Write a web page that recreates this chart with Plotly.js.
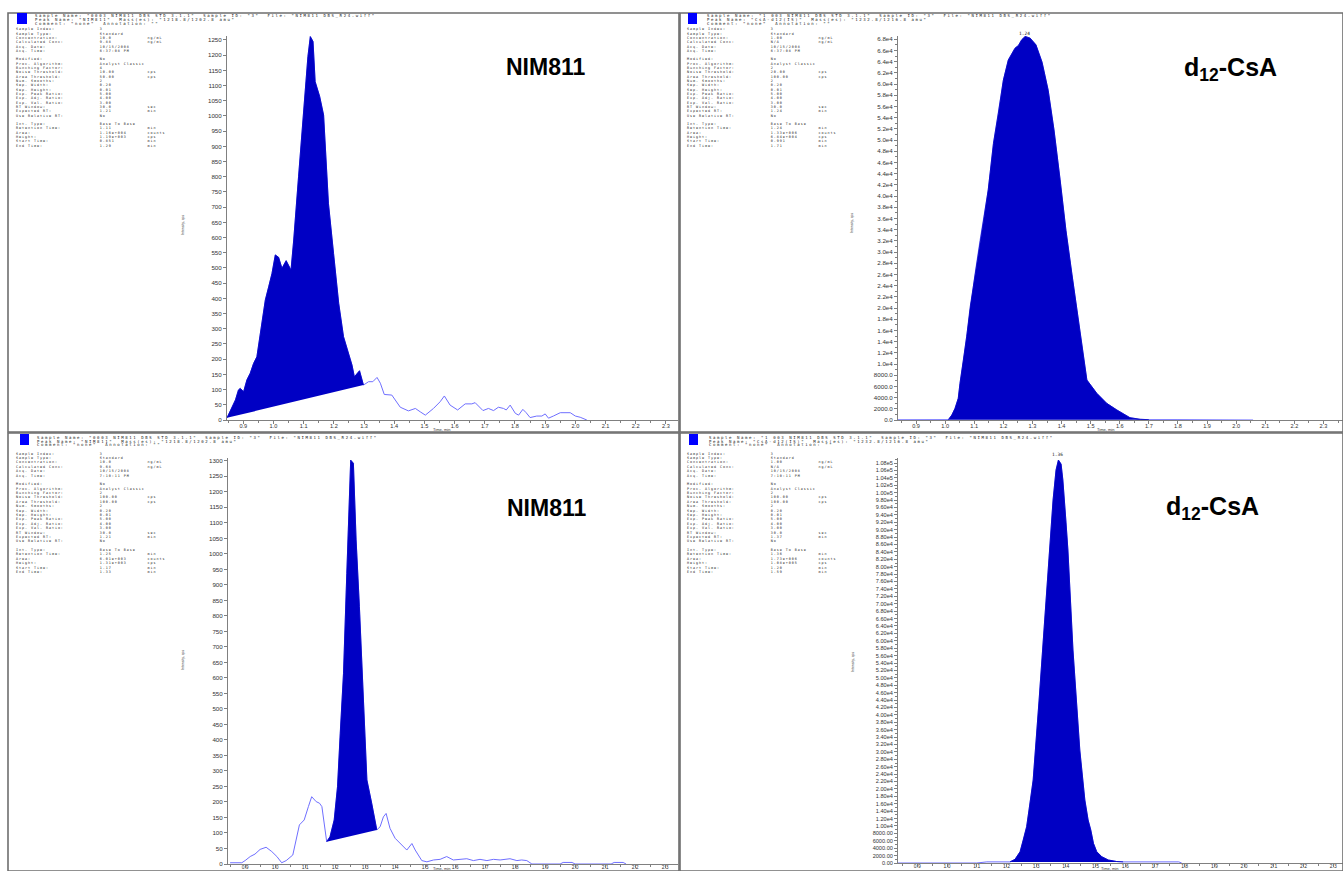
<!DOCTYPE html>
<html><head><meta charset="utf-8">
<script src="https://cdn.plot.ly/plotly-3.0.1.min.js"></script>
<style>html,body{margin:0;padding:0;background:#fff;overflow:hidden}#chart{width:1343px;height:871px;}</style>
</head><body><div id="chart"></div>
<script>
const W = 1343, H = 871;

// ---------- tick labels ----------
const xTickLabels = ["0.9","1.0","1.1","1.2","1.3","1.4","1.5","1.6","1.7","1.8","1.9","2.0","2.1","2.2","2.3"];
const tlYTickLabels = ["0","50","100","150","200","250","300","350","400","450","500","550","600","650","700","750","800","850","900","950","1000","1050","1100","1150","1200","1250"];
const trYTickLabels = ["0.0","2000.0","4000.0","6000.0","8000.0","1.0e4","1.2e4","1.4e4","1.6e4","1.8e4","2.0e4","2.2e4","2.4e4","2.6e4","2.8e4","3.0e4","3.2e4","3.4e4","3.6e4","3.8e4","4.0e4","4.2e4","4.4e4","4.6e4","4.8e4","5.0e4","5.2e4","5.4e4","5.6e4","5.8e4","6.0e4","6.2e4","6.4e4","6.6e4","6.8e4"];
const blYTickLabels = ["0","50","100","150","200","250","300","350","400","450","500","550","600","650","700","750","800","850","900","950","1000","1050","1100","1150","1200","1250","1300"];
const brYTickLabels = ["0.00","2000.00","4000.00","6000.00","8000.00","1.00e4","1.20e4","1.40e4","1.60e4","1.80e4","2.00e4","2.20e4","2.40e4","2.60e4","2.80e4","3.00e4","3.20e4","3.40e4","3.60e4","3.80e4","4.00e4","4.20e4","4.40e4","4.60e4","4.80e4","5.00e4","5.20e4","5.40e4","5.60e4","5.80e4","6.00e4","6.20e4","6.40e4","6.60e4","6.80e4","7.00e4","7.20e4","7.40e4","7.60e4","7.80e4","8.00e4","8.20e4","8.40e4","8.60e4","8.80e4","9.00e4","9.20e4","9.40e4","9.60e4","9.80e4","1.00e5","1.02e5","1.04e5","1.06e5","1.08e5"];

// ---------- chromatogram data (time, min / intensity, cps) ----------
const tlTime = [0.846,0.863,0.874,0.884,0.890,0.901,0.912,0.923,0.934,0.945,0.956,0.973,0.984,0.995,1.006,1.017,1.028,1.042,1.058,1.067,1.083,1.100,1.114,1.122,1.131,1.138,1.153,1.166,1.182,1.199,1.216,1.232,1.249,1.260,1.268,1.277,1.285,1.298,1.315,1.329,1.343,1.354,1.367,1.392,1.403,1.420,1.447,1.470,1.486,1.503,1.530,1.552,1.566,1.574,1.585,1.610,1.635,1.657,1.668,1.694,1.712,1.729,1.745,1.762,1.771,1.784,1.801,1.812,1.826,1.837,1.850,1.872,1.889,1.900,1.911,1.927,1.950,1.983,2.000,2.016,2.038];
const tlIntensity = [7,44,66,99,104,93,132,154,186,208,285,395,438,482,543,535,499,524,493,592,800,1020,1195,1261,1245,1113,1064,1003,713,548,384,274,219,181,142,154,162,115,126,126,140,121,84,82,66,42,30,38,27,16,38,60,79,66,49,33,53,53,57,31,38,31,42,38,33,49,22,16,35,24,8,13,13,20,6,13,24,24,13,9,0];
const tlPeakStart = 0.846, tlPeakEnd = 1.298;

const trTime = [0.838,0.900,0.950,1.000,1.011,1.023,1.034,1.045,1.051,1.063,1.074,1.086,1.103,1.120,1.134,1.148,1.166,1.183,1.200,1.217,1.230,1.240,1.252,1.263,1.275,1.292,1.312,1.333,1.354,1.374,1.395,1.415,1.436,1.457,1.487,1.521,1.555,1.590,1.611,1.635,1.670,1.700,1.800,1.900,2.000,2.058];
const trIntensity = [40,40,40,40,60,890,2080,3870,6550,10700,14900,20200,26200,32100,36300,41100,49400,54800,60700,64300,65600,66400,66900,67900,68500,68200,67000,63900,58900,51800,42900,33900,25900,17900,7140,4770,2980,1790,1200,410,125,60,60,40,40,0];
const trPeakStart = 1.011, trPeakEnd = 1.700;

const blTime = [0.850,0.889,0.900,0.917,0.933,0.950,0.970,0.989,1.006,1.022,1.037,1.059,1.081,1.097,1.111,1.122,1.137,1.148,1.156,1.172,1.183,1.197,1.208,1.217,1.228,1.239,1.248,1.252,1.261,1.270,1.281,1.292,1.306,1.322,1.339,1.350,1.361,1.370,1.383,1.400,1.422,1.439,1.456,1.467,1.489,1.506,1.528,1.550,1.572,1.594,1.639,1.661,1.683,1.706,1.728,1.750,1.783,1.806,1.822,1.839,1.856,1.950,1.960,1.990,2.000,2.120,2.130,2.160,2.170];
const blIntensity = [4,4,11,24,32,47,54,40,24,4,11,29,126,142,185,217,201,196,185,72,88,142,249,421,615,937,1238,1302,1292,1045,830,561,271,196,110,120,152,163,115,83,61,45,66,45,11,7,13,15,24,13,17,11,15,11,15,13,17,11,13,11,0,0,5,5,0,0,5,5,0];
const blPeakStart = 1.172, blPeakEnd = 1.339;

const brTime = [0.835,1.100,1.134,1.200,1.212,1.229,1.246,1.257,1.268,1.276,1.290,1.310,1.333,1.347,1.357,1.367,1.375,1.384,1.390,1.400,1.407,1.424,1.447,1.464,1.475,1.484,1.493,1.504,1.521,1.543,1.571,1.593,1.650,1.780,1.790];
const brIntensity = [0,0,300,300,300,1000,3050,6200,9800,14300,22400,44000,71000,87200,98000,106100,108800,107700,103400,92600,84500,57500,30500,17000,11600,8900,5300,3050,1700,810,400,300,300,300,0];
const brPeakStart = 1.212, brPeakEnd = 1.593;

// ---------- peak-review text ----------
const infoLabels = ["Sample Index:","Sample Type:","Concentration:","Calculated Conc:","Acq. Date:","Acq. Time:","","Modified:","Proc. Algorithm:","Bunching Factor:","Noise Threshold:","Area Threshold:","Num. Smooths:","Sep. Width:","Sep. Height:","Exp. Peak Ratio:","Exp. Adj. Ratio:","Exp. Val. Ratio:","RT Window:","Expected RT:","Use Relative RT:","","Int. Type:","Retention Time:","Area:","Height:","Start Time:","End Time:"];
const infoUnits = ["","","ng/mL","ng/mL","","","","","","","cps","cps","","","","","","","sec","min","","","","min","counts","cps","min","min"];
const tlInfoValues = ["3","Standard","10.0","9.88","10/15/2008","6:37:08 PM","","No","Analyst Classic","4","10.00","50.00","2","0.20","0.01","5.00","4.00","3.00","30.0","1.21","No","","Base To Base","1.11","1.16e+004","1.19e+003","0.851","1.29"];
const trInfoValues = ["3","Standard","1.00","N/A","10/15/2008","6:37:08 PM","","No","Analyst Classic","2","20.00","100.00","2","0.20","0.01","5.00","4.00","3.00","30.0","1.24","No","","Base To Base","1.24","1.33e+006","6.84e+004","0.991","1.71"];
const blInfoValues = ["3","Standard","10.0","9.68","10/15/2008","7:10:11 PM","","No","Analyst Classic","2","100.00","100.00","2","0.20","0.01","5.00","4.00","3.00","30.0","1.21","No","","Base To Base","1.25","6.01e+003","1.31e+003","1.17","1.33"];
const brInfoValues = ["3","Standard","1.00","N/A","10/15/2008","7:10:11 PM","","No","Analyst Classic","2","100.00","100.00","2","0.20","0.01","5.00","4.00","3.00","30.0","1.37","No","","Base To Base","1.36","1.73e+006","1.08e+005","1.20","1.59"];
const tlHeader = ['Sample Name: "0003 NIM811 DBS STD 3.1.1"  Sample ID: "3"  File: "NIM811 DBS_R24.wiff"','Peak Name: "NIM811"  Mass(es): "1218.8/1202.8 amu"','Comment: "none"  Annotation: ""'];
const trHeader = ['Sample Name: "1 003 NIM811 DBS STD 3.1.1"  Sample ID: "3"  File: "NIM811 DBS_R24.wiff"','Peak Name: "CsA-d12(IS)"  Mass(es): "1232.8/1216.8 amu"','Comment: "none"  Annotation: ""'];
const blHeader = ['Sample Name: "0003 NIM811 DBS STD 3.1.1"  Sample ID: "3"  File: "NIM811 DBS_R24.wiff"','Peak Name: "NIM811"  Mass(es): "1218.8/1202.8 amu"','Comment: "none"  Annotation: ""'];
const brHeader = ['Sample Name: "1 003 NIM811 DBS STD 3.1.1"  Sample ID: "3"  File: "NIM811 DBS_R24.wiff"','Peak Name: "CsA-d12(IS)"  Mass(es): "1232.8/1216.8 amu"','Comment: "none"  Annotation: ""'];
const panelTitles = ["<b>NIM811</b>","<b>d<sub>12</sub>-CsA</b>","<b>NIM811</b>","<b>d<sub>12</sub>-CsA</b>"];
const apexLabels = ["1.24","1.36"];

// ---------- helpers ----------
const PX = x => x / W, PY = y => 1 - y / H;
const FILL = '#0000c4', LINE = '#6f6fff', AX = '#808080';
const NB = '\u00a0';
const pad = (s, n) => (s + NB.repeat(Math.max(0, n - s.length))).replace(/ /g, NB);

const traces = [];
function addPanel(t, v, s, e, xa, ya) {
  traces.push({x: t, y: v, xaxis: xa, yaxis: ya, type: 'scatter', mode: 'lines',
    line: {color: LINE, width: 1}, hoverinfo: 'skip'});
  const px = [], pv = [];
  t.forEach((tt, i) => { if (tt >= s - 1e-9 && tt <= e + 1e-9) { px.push(tt); pv.push(v[i]); } });
  traces.push({x: px, y: pv, xaxis: xa, yaxis: ya, type: 'scatter', mode: 'lines', fill: 'toself',
    fillcolor: FILL, line: {color: FILL, width: 0.8}, hoverinfo: 'skip'});
}
addPanel(tlTime, tlIntensity, tlPeakStart, tlPeakEnd, 'x', 'y');
addPanel(trTime, trIntensity, trPeakStart, trPeakEnd, 'x2', 'y2');
addPanel(blTime, blIntensity, blPeakStart, blPeakEnd, 'x3', 'y3');
addPanel(brTime, brIntensity, brPeakStart, brPeakEnd, 'x4', 'y4');

const tickFamily = 'Liberation Sans, Arial, sans-serif';
function xAxis(l, r, range, anchor, standoff, fsize) {
  return {domain: [PX(l), PX(r)], range: range, anchor: anchor, showline: true, linecolor: AX, linewidth: 1,
    ticks: 'outside', ticklen: 3, tickcolor: AX, tickmode: 'array', tickvals: xTickLabels.map(Number),
    ticktext: xTickLabels, tickfont: {family: tickFamily, size: fsize, color: '#333'}, ticklabelstandoff: standoff,
    showgrid: false, zeroline: false, fixedrange: true,
    minor: {tickmode: 'linear', tick0: 0.85, dtick: 0.1, ticks: 'outside', ticklen: 2, tickcolor: AX, showgrid: false}};
}
function yAxis(b, t, range, anchor, labels, minorD, fsize) {
  const a = {domain: [PY(b), PY(t)], range: range, anchor: anchor, showline: true, linecolor: AX, linewidth: 1,
    ticks: 'outside', ticklen: 3, tickcolor: AX, tickmode: 'array', tickvals: labels.map(Number),
    ticktext: labels, tickfont: {family: tickFamily, size: fsize, color: '#333'}, showgrid: false, zeroline: false, fixedrange: true};
  if (minorD) a.minor = {tickmode: 'linear', tick0: 0, dtick: minorD, ticks: 'outside', ticklen: 2, tickcolor: AX, showgrid: false};
  return a;
}

const annotations = [];
const spacing = {};   // annotation index -> letter spacing (px), applied after drawing
const monoSmall = {family: 'DejaVu Sans Mono, monospace', size: 3.4, color: '#222'};
const monoHead = {family: 'DejaVu Sans Mono, monospace', size: 4, color: '#222'};
function addInfo(x0, y0, step, values, hx, hy, header) {
  header.forEach((h, i) => {
    spacing[annotations.length] = 1.6;
    annotations.push({xref: 'paper', yref: 'paper', x: PX(hx), y: PY(hy + i * 4.0),
      xanchor: 'left', yanchor: 'middle', showarrow: false, text: h.replace(/ /g, NB), font: monoHead});
  });
  infoLabels.forEach((lab, i) => {
    if (!lab) return;
    const s = pad(lab, 28) + pad(values[i], 16) + infoUnits[i];
    spacing[annotations.length] = 0.95;
    annotations.push({xref: 'paper', yref: 'paper', x: PX(x0), y: PY(y0 + i * step), xanchor: 'left',
      yanchor: 'middle', showarrow: false, text: s, font: monoSmall});
  });
}
addInfo(14, 29.3, 4.31, tlInfoValues, 33, 15.7, tlHeader);
addInfo(685, 29.3, 4.31, trInfoValues, 705, 15.7, trHeader);
addInfo(14, 453.7, 4.38, blInfoValues, 35, 437.0, blHeader);
addInfo(685, 453.7, 4.38, brInfoValues, 707, 437.0, brHeader);

[[545, 67, 23], [1230, 69, 25], [546, 508, 23], [1212, 508, 25]].forEach((p, i) => annotations.push({xref: 'paper', yref: 'paper',
  x: PX(p[0]), y: PY(p[1]), xanchor: 'center', yanchor: 'middle', showarrow: false, text: panelTitles[i],
  font: {family: 'Liberation Sans, Arial, sans-serif', size: p[2], color: '#000'}}));
[[1024, 33], [1057, 455]].forEach((p, i) => annotations.push({xref: 'paper', yref: 'paper', x: PX(p[0]), y: PY(p[1]),
  xanchor: 'center', yanchor: 'middle', showarrow: false, text: apexLabels[i], font: {family: 'DejaVu Sans Mono, monospace', size: 4.5, color: '#222'}}));
const smallFont = {family: 'Liberation Sans, Arial, sans-serif', size: 4, color: '#333'};
[[442, 429], [1105, 429], [442, 868.5], [1109, 868.5]].forEach(p => annotations.push({xref: 'paper', yref: 'paper',
  x: PX(p[0]), y: PY(p[1]), xanchor: 'center', yanchor: 'middle', showarrow: false, text: 'Time, min', font: smallFont}));
[[183, 225], [852, 223], [183, 660], [853, 662]].forEach(p => annotations.push({xref: 'paper', yref: 'paper',
  x: PX(p[0]), y: PY(p[1]), xanchor: 'center', yanchor: 'middle', showarrow: false, textangle: -90, text: 'Intensity, cps',
  font: {family: 'Liberation Sans, Arial, sans-serif', size: 3.5, color: '#333'}}));

const shapes = [];
[[8, 13, 679, 432], [680, 13, 1343, 432], [8, 433, 679, 871], [680, 433, 1343, 871]].forEach(r => shapes.push({type: 'rect',
  xref: 'paper', yref: 'paper', x0: PX(r[0]), x1: PX(r[2]), y0: PY(r[3]), y1: PY(r[1]), line: {color: '#6e6e6e', width: 1.6}, layer: 'above'}));
[[17, 13, 27, 24], [688, 13, 697, 24], [20, 434, 29, 445], [689, 434, 698, 445]].forEach(r => shapes.push({type: 'rect',
  xref: 'paper', yref: 'paper', x0: PX(r[0]), x1: PX(r[2]), y0: PY(r[3]), y1: PY(r[1]), line: {width: 0}, fillcolor: '#0000ff'}));

const layout = {
  width: W, height: H, margin: {l: 0, r: 0, t: 0, b: 0}, paper_bgcolor: '#fff', plot_bgcolor: 'rgba(0,0,0,0)',
  showlegend: false, annotations: annotations, shapes: shapes,
  xaxis: xAxis(227, 678, [0.846, 2.34], 'y', -3, 5.6),
  yaxis: yAxis(420, 36, [0, 1263], 'x', tlYTickLabels, 0, 6.2),
  xaxis2: xAxis(898, 1343, [0.838, 2.367], 'y2', -3, 5.6),
  yaxis2: yAxis(420, 36, [0, 68580], 'x2', trYTickLabels, 1000, 6.2),
  xaxis3: xAxis(228, 678, [0.843, 2.343], 'y3', -5, 5.0),
  yaxis3: yAxis(864, 458, [0, 1309], 'x3', blYTickLabels, 0, 6.2),
  xaxis4: xAxis(898, 1343, [0.835, 2.333], 'y4', -5, 5.0),
  yaxis4: yAxis(863, 458, [0, 109350], 'x4', brYTickLabels, 1000, 5.6)
};
Plotly.newPlot('chart', traces, layout, {staticPlot: true, displayModeBar: false}).then(gd => {
  gd.querySelectorAll('g.annotation').forEach(g => {
    const i = +g.getAttribute('data-index');
    const t = g.querySelector('text');
    if (!t || spacing[i] === undefined) return;
    const bb = t.getBBox();
    t.style.letterSpacing = spacing[i] + 'px';
    t.setAttribute('text-anchor', 'start');
    t.setAttribute('x', bb.x);
    t.querySelectorAll('tspan[x]').forEach(s => s.setAttribute('x', bb.x));
  });
});
</script></body></html>
